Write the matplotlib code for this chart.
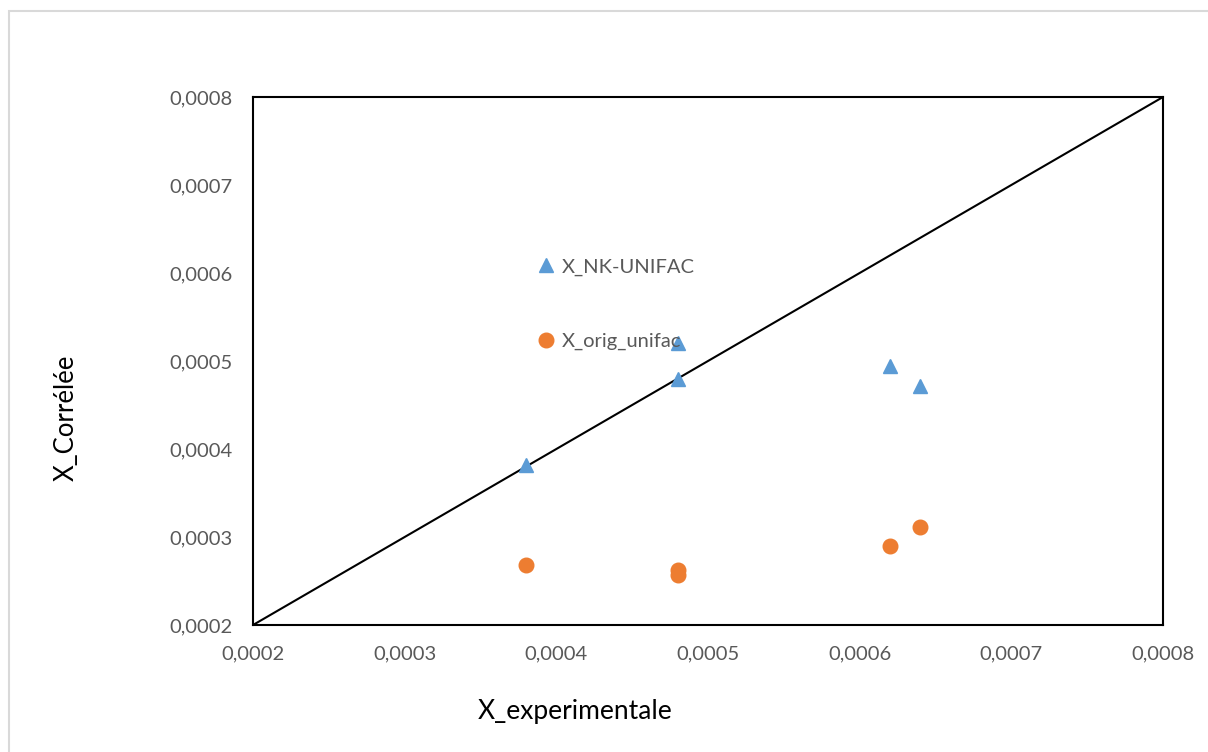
import matplotlib
matplotlib.use("Agg")
import matplotlib.pyplot as plt
from matplotlib.patches import Rectangle
from matplotlib.ticker import FuncFormatter

# experimental vs correlated mole fractions
x_nk = [0.00038, 0.00048, 0.00048, 0.00062, 0.00064]
y_nk = [0.000382, 0.00048, 0.00052, 0.000494, 0.000472]

x_orig = [0.00038, 0.00048, 0.00048, 0.00062, 0.00064]
y_orig = [0.000268, 0.000262, 0.000257, 0.00029, 0.000311]

diag = [0.0002, 0.0008]
ticks = [0.0002, 0.0003, 0.0004, 0.0005, 0.0006, 0.0007, 0.0008]

plt.rcParams['font.family'] = ['Lato', 'DejaVu Sans']

fig = plt.figure(figsize=(12.08, 7.52), dpi=100)
ax = fig.add_axes([253 / 1208, 1 - 625 / 752, 910 / 1208, 528 / 752])

# chart area border (Excel style)
fig.patches.append(Rectangle((9 / 1208, -0.01), 1.1, 1 - 10.5 / 752 + 0.01,
                             transform=fig.transFigure, fill=False,
                             edgecolor='#d9d9d9', linewidth=1.5))

ax.plot(diag, diag, color='black', linewidth=1.5, zorder=2)
ax.plot(x_nk, y_nk, linestyle='none', marker='^', markersize=10.5,
        color='#5b9bd5', label='X_NK-UNIFAC', zorder=3)
ax.plot(x_orig, y_orig, linestyle='none', marker='o', markersize=10.5,
        color='#ed7d31', label='X_orig_unifac', zorder=3)

ax.set_xlim(0.0002, 0.0008)
ax.set_ylim(0.0002, 0.0008)
ax.set_xticks(ticks)
ax.set_yticks(ticks)
fmt = FuncFormatter(lambda v, p: f"{v:.4f}".replace('.', ','))
ax.xaxis.set_major_formatter(fmt)
ax.yaxis.set_major_formatter(fmt)
ax.tick_params(length=0, labelsize=14.5, labelcolor='#595959', pad=15)

for s in ax.spines.values():
    s.set_linewidth(1.5)
    s.set_color('black')

leg = ax.legend(loc='upper left', bbox_to_anchor=(0.302, 0.71), frameon=False,
                fontsize=14.5, handlelength=1.0, handletextpad=0.3,
                labelspacing=2.85, borderaxespad=0)
for t in leg.get_texts():
    t.set_color('#595959')

fig.text(575 / 1208, 1 - 711 / 752, 'X_experimentale', ha='center', va='center',
         fontsize=19, color='black')
fig.text(66 / 1208, 1 - 418 / 752, 'X_Corrélée', ha='center', va='center',
         rotation=90, fontsize=18.5, color='black')

fig.savefig('out.png', dpi=100)
